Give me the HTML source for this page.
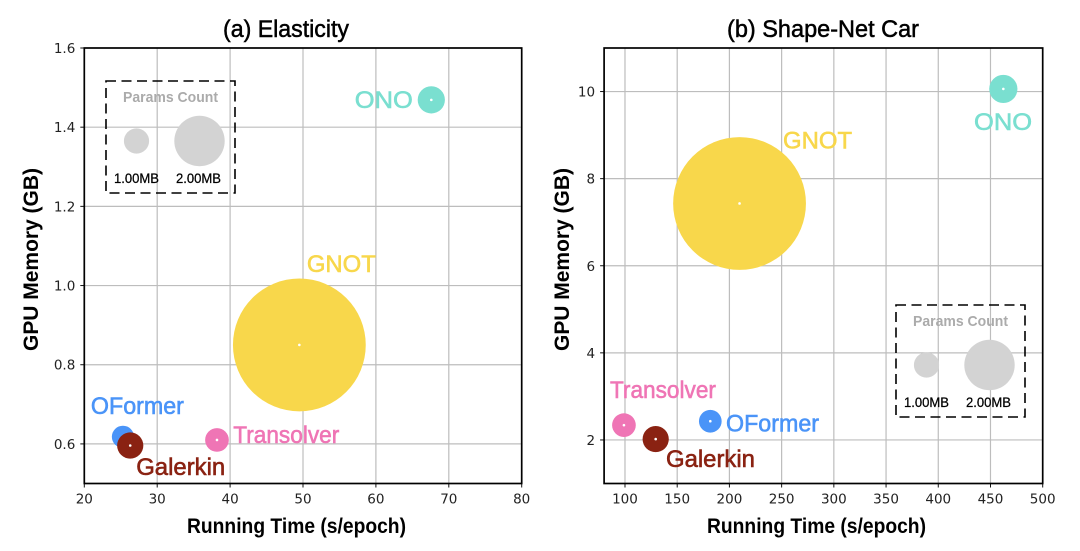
<!DOCTYPE html>
<html>
<head>
<meta charset="utf-8">
<title>Elasticity and Shape-Net Car comparison</title>
<style>
html,body{margin:0;padding:0;background:#fff;width:1080px;height:551px;overflow:hidden}
svg{display:block}
text{font-family:"Liberation Sans",sans-serif}
.tick{font-family:"DejaVu Sans",sans-serif;font-size:13.5px;fill:#222}
</style>
</head>
<body>
<svg id="chart" width="1080" height="551" viewBox="0 0 1080 551" xmlns="http://www.w3.org/2000/svg"></svg>
<script>
const methods = ["OFormer", "ONO", "GNOT", "Transolver", "Galerkin"];
const colors = ["#4A94F8", "#7ADFD0", "#F8D74B", "#EF75B5", "#8A2212"];
const labelWidths = [93, 58, 69, 106, 89];

const elasticityTime = [25.3, 67.6, 49.5, 38.2, 26.3];
const elasticityMemory = [0.618, 1.469, 0.85, 0.61, 0.596];
const elasticityParams = [0.88, 1.08, 5.27, 0.94, 1.04];
const elasticityXTicks = [20, 30, 40, 50, 60, 70, 80];
const elasticityYTicks = ["0.6", "0.8", "1.0", "1.2", "1.4", "1.6"];

const shapeTime = [181.7, 462.3, 209.7, 99, 129.4];
const shapeMemory = [2.43, 10.06, 7.43, 2.34, 2.02];
const shapeParams = [0.9, 1.12, 5.27, 0.94, 1.04];
const shapeXTicks = [100, 150, 200, 250, 300, 350, 400, 450, 500];
const shapeYTicks = ["2", "4", "6", "8", "10"];

const legendSizes = [1, 2];
const legendLabels = ["1.00MB", "2.00MB"];

const NS = "http://www.w3.org/2000/svg";
const root = document.getElementById("chart");
const RADIUS_PER_MB = 12.6;

function make(parent, tag, attrs, content) {
  const el = document.createElementNS(NS, tag);
  for (const k in attrs) el.setAttribute(k, attrs[k]);
  if (content !== undefined) el.textContent = content;
  parent.appendChild(el);
  return el;
}

function drawPanel(p) {
  const sx = v => p.left + (v - p.xMin) / (p.xMax - p.xMin) * (p.right - p.left);
  const sy = v => p.bottom - (v - p.yMin) / (p.yMax - p.yMin) * (p.bottom - p.top);

  const g = make(root, "g", {});
  
  

  // grid + ticks
  p.xTicks.forEach(t => {
    const x = sx(+t);
    const grid = make(g, "line", {x1: x, x2: x, y1: p.top, y2: p.bottom, stroke: "#bdbdbd", "stroke-width": 1.2});
    
    
    const tick = make(g, "line", {x1: x, x2: x, y1: p.bottom, y2: p.bottom + 4, stroke: "#111", "stroke-width": 1});
    
    
    const label = make(g, "text", {class: "tick", x: x, y: p.bottom + 20, "text-anchor": "middle"}, String(t));
    
    
  });
  p.yTicks.forEach(t => {
    const y = sy(+t);
    const grid = make(g, "line", {x1: p.left, x2: p.right, y1: y, y2: y, stroke: "#bdbdbd", "stroke-width": 1.2});
    
    
    const tick = make(g, "line", {x1: p.left - 4, x2: p.left, y1: y, y2: y, stroke: "#111", "stroke-width": 1});
    
    
    const label = make(g, "text", {class: "tick", x: p.left - 9, y: y + 5, "text-anchor": "end"}, t);
    
    
  });

  // legend
  const L = p.legend;
  const legend = make(g, "g", {});
  
  
  const box = make(legend, "rect", {x: L.x, y: L.y, width: 129, height: 112, fill: "none", stroke: "#000", "stroke-width": 1.6, "stroke-dasharray": "10 5.5"});
  
  
  const legendTitle = make(legend, "text", {x: L.x + 17, y: L.y + 21, "font-size": 15, "font-weight": "bold", fill: "#ababab", textLength: 95, lengthAdjust: "spacingAndGlyphs"}, "Params Count");
  
  
  const legendCx = [30.5, 93.5];
  const legendTextX = [8, 70];
  legendSizes.forEach((s, i) => {
    const c = make(legend, "circle", {cx: L.x + legendCx[i], cy: L.y + 60, r: s * RADIUS_PER_MB, fill: "#d3d3d3"});
    
    
    const t = make(legend, "text", {x: L.x + legendTextX[i], y: L.y + 102, "font-size": 14, fill: "#000", stroke: "#000", "stroke-width": 0.25, textLength: 45, lengthAdjust: "spacingAndGlyphs"}, legendLabels[i]);
    
    
  });

  // bubbles
  methods.forEach((m, i) => {
    const cx = sx(p.xs[i]), cy = sy(p.ys[i]);
    const bubble = make(g, "circle", {cx: cx, cy: cy, r: p.params[i] * RADIUS_PER_MB, fill: colors[i]});
    
    
    const dot = make(g, "circle", {cx: cx, cy: cy, r: 1.3, fill: "#fff"});
    
    
  });
  methods.forEach((m, i) => {
    const cx = sx(p.xs[i]), cy = sy(p.ys[i]);
    const label = make(g, "text", {x: cx + p.offX[i], y: cy + p.offY[i], "font-size": 24, fill: colors[i], stroke: colors[i], "stroke-width": 0.6, textLength: labelWidths[i], lengthAdjust: "spacingAndGlyphs"}, m);
    
    
  });

  // spines
  const frame = make(g, "rect", {x: p.left, y: p.top, width: p.right - p.left, height: p.bottom - p.top, fill: "none", stroke: "#000", "stroke-width": 1.7});
  
  

  // titles
  const title = make(g, "text", {x: p.titleX, y: 37, "font-size": 24, fill: "#000", stroke: "#000", "stroke-width": 0.5, textLength: p.titleW, lengthAdjust: "spacingAndGlyphs"}, p.title);
  
  
  const xTitle = make(g, "text", {x: p.xTitleX, y: 533, "font-size": 21, "font-weight": "bold", fill: "#000", textLength: 219, lengthAdjust: "spacingAndGlyphs"}, "Running Time (s/epoch)");
  
  
  const yTitle = make(g, "text", {x: 0, y: 0, transform: "translate(" + p.yTitleX + ",351) rotate(-90)", "font-size": 21, "font-weight": "bold", fill: "#000", textLength: 183, lengthAdjust: "spacingAndGlyphs"}, "GPU Memory (GB)");
  
  
}

drawPanel({
  id: "elasticity", title: "(a) Elasticity", titleX: 223, titleW: 126, xTitleX: 187, yTitleX: 38,
  left: 84.3, right: 521.7, top: 48, bottom: 483.5,
  xMin: 20, xMax: 80, yMin: 0.5, yMax: 1.6,
  xTicks: elasticityXTicks, yTicks: elasticityYTicks,
  xs: elasticityTime, ys: elasticityMemory, params: elasticityParams,
  offX: [-32, -76.5, 7.5, 16.3, 6], offY: [-23, 8, -73, 3, 29.3],
  legend: {x: 106, y: 81}
});
drawPanel({
  id: "shape-net-car", title: "(b) Shape-Net Car", titleX: 727, titleW: 192, xTitleX: 707, yTitleX: 569,
  left: 604.1, right: 1042.7, top: 48, bottom: 483.5,
  xMin: 80, xMax: 500, yMin: 1, yMax: 11,
  xTicks: shapeXTicks, yTicks: shapeYTicks,
  xs: shapeTime, ys: shapeMemory, params: shapeParams,
  offX: [15.7, -29.3, 43.5, -14, 10.3], offY: [10.4, 41.3, -55, -27.3, 28],
  legend: {x: 896, y: 305}
});
</script>
</body>
</html>
